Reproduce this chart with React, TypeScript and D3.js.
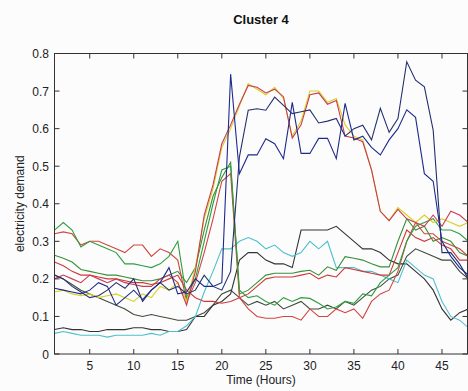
import React from "react";
import * as d3 from "d3";

const hours: number[] = d3.range(1, 49);
const xTicks = [5, 10, 15, 20, 25, 30, 35, 40, 45];
const yTicks = [0, 0.1, 0.2, 0.3, 0.4, 0.5, 0.6, 0.7, 0.8];

const yellowSeries = [
  0.165, 0.17, 0.16, 0.155, 0.16, 0.15, 0.155, 0.16, 0.15, 0.14, 0.16, 0.15, 0.18, 0.17, 0.19, 0.14,
  0.23, 0.36, 0.44, 0.55, 0.6, 0.66, 0.72, 0.705, 0.69, 0.71, 0.68, 0.58, 0.62, 0.7, 0.7, 0.67,
  0.68, 0.61, 0.58, 0.57, 0.49, 0.38, 0.355, 0.39, 0.37, 0.35, 0.37, 0.35, 0.36, 0.35, 0.34, 0.35,
];
const redHighSeries = [
  0.2, 0.21, 0.2, 0.19, 0.21, 0.2, 0.19, 0.2, 0.19, 0.185, 0.18, 0.18, 0.2, 0.21, 0.19, 0.13,
  0.22, 0.37, 0.45, 0.56, 0.61, 0.665, 0.715, 0.71, 0.695, 0.705, 0.685, 0.575, 0.61, 0.69, 0.695, 0.665,
  0.675, 0.58, 0.575, 0.565, 0.49, 0.38, 0.355, 0.385, 0.36, 0.35, 0.34, 0.37, 0.34, 0.38, 0.37, 0.35,
];
const navyLSeries = [
  0.175, 0.17, 0.165, 0.16, 0.17, 0.19, 0.18, 0.13, 0.15, 0.17, 0.145, 0.17, 0.19, 0.23, 0.16, 0.165,
  0.2, 0.18, 0.18, 0.19, 0.745, 0.48, 0.53, 0.53, 0.573, 0.56, 0.52, 0.67, 0.534, 0.534, 0.574, 0.574,
  0.52, 0.667, 0.57, 0.58, 0.55, 0.53, 0.57, 0.6, 0.65, 0.63, 0.48, 0.46, 0.3, 0.26, 0.23, 0.21,
];
const navyUSeries = [
  0.21, 0.2, 0.18, 0.165, 0.15, 0.155, 0.17, 0.19, 0.175, 0.2, 0.14, 0.17, 0.19, 0.17, 0.18, 0.16,
  0.17, 0.21, 0.18, 0.17, 0.22, 0.525, 0.649, 0.653, 0.649, 0.684, 0.662, 0.64, 0.645, 0.65, 0.615, 0.62,
  0.627, 0.58, 0.6, 0.609, 0.57, 0.654, 0.59, 0.627, 0.778, 0.729, 0.711, 0.596, 0.27, 0.27, 0.24, 0.2,
];
const cyanSeries = [
  0.055, 0.06, 0.055, 0.05, 0.05, 0.05, 0.045, 0.05, 0.05, 0.05, 0.05, 0.055, 0.05, 0.06, 0.06, 0.075,
  0.1, 0.165, 0.22, 0.28, 0.28, 0.3, 0.31, 0.3, 0.28, 0.29, 0.27, 0.26, 0.27, 0.3, 0.28, 0.3,
  0.23, 0.23, 0.23, 0.22, 0.22, 0.21, 0.2, 0.19, 0.25, 0.23, 0.21, 0.2, 0.14, 0.1, 0.09, 0.07,
];
const blackUpSeries = [
  0.065, 0.07, 0.065, 0.065, 0.06, 0.06, 0.065, 0.065, 0.065, 0.07, 0.07, 0.065, 0.065, 0.06, 0.06, 0.065,
  0.1, 0.1, 0.13, 0.14, 0.16, 0.25, 0.27, 0.27, 0.25, 0.24, 0.24, 0.23, 0.33, 0.33, 0.33, 0.33,
  0.34, 0.32, 0.3, 0.28, 0.28, 0.27, 0.25, 0.24, 0.24, 0.22, 0.2, 0.17, 0.12, 0.09, 0.11, 0.12,
];
const darkMidSeries = [
  0.21, 0.2, 0.185, 0.17, 0.16, 0.15, 0.14, 0.13, 0.12, 0.105, 0.1, 0.105, 0.1, 0.095, 0.09, 0.09,
  0.1, 0.11, 0.13, 0.16, 0.17, 0.15, 0.13, 0.14, 0.13, 0.14, 0.12, 0.13, 0.14, 0.12, 0.12, 0.13,
  0.12, 0.14, 0.13, 0.15, 0.17, 0.18, 0.2, 0.21, 0.26, 0.28, 0.27, 0.26, 0.25, 0.25, 0.22, 0.2,
];
const greenTopSeries = [
  0.33, 0.35, 0.33, 0.285, 0.3, 0.29, 0.28, 0.27, 0.24, 0.24, 0.235, 0.23, 0.24, 0.26, 0.3, 0.15,
  0.2, 0.3, 0.4, 0.49, 0.5, 0.17, 0.15, 0.155, 0.14, 0.13, 0.15, 0.14, 0.15, 0.148, 0.135, 0.12,
  0.125, 0.14, 0.135, 0.16, 0.155, 0.19, 0.21, 0.23, 0.3, 0.34, 0.35, 0.36, 0.33, 0.33, 0.32, 0.3,
];
const redTopSeries = [
  0.32, 0.325, 0.32, 0.29, 0.3, 0.3, 0.29, 0.28, 0.27, 0.29, 0.29, 0.26, 0.28, 0.27, 0.25, 0.14,
  0.19, 0.27, 0.36, 0.46, 0.48, 0.15, 0.12, 0.1, 0.095, 0.095, 0.1, 0.1, 0.09, 0.12, 0.1, 0.1,
  0.12, 0.11, 0.12, 0.095, 0.14, 0.16, 0.17, 0.22, 0.3, 0.35, 0.32, 0.32, 0.3, 0.29, 0.28, 0.26,
];
const green2Series = [
  0.263, 0.255, 0.245, 0.225, 0.22, 0.215, 0.21, 0.21, 0.205, 0.2, 0.195, 0.195, 0.2, 0.21, 0.22, 0.19,
  0.23, 0.33, 0.42, 0.47, 0.51, 0.16, 0.17, 0.19, 0.21, 0.215, 0.215, 0.215, 0.22, 0.223, 0.21, 0.232,
  0.223, 0.259, 0.255, 0.25, 0.24, 0.232, 0.232, 0.3, 0.36, 0.33, 0.34, 0.3, 0.31, 0.3, 0.27, 0.26,
];
const redMidSeries = [
  0.245, 0.235, 0.22, 0.21, 0.21, 0.205, 0.2, 0.2, 0.195, 0.19, 0.19, 0.185, 0.19, 0.2, 0.21, 0.17,
  0.15, 0.14, 0.14, 0.135, 0.14, 0.15, 0.16, 0.18, 0.2, 0.205, 0.205, 0.205, 0.21, 0.215, 0.2, 0.21,
  0.205, 0.23, 0.225, 0.22, 0.215, 0.21, 0.21, 0.27, 0.33, 0.31, 0.3, 0.31, 0.29, 0.28, 0.25, 0.25,
];

const seriesList = [
  { name: "darkMid", values: darkMidSeries, color: "#3f4a3a" },
  { name: "blackUp", values: blackUpSeries, color: "#333333" },
  { name: "cyan", values: cyanSeries, color: "#4cc0cc" },
  { name: "redMid", values: redMidSeries, color: "#cc3a3a" },
  { name: "green2", values: green2Series, color: "#3a8f3a" },
  { name: "redTop", values: redTopSeries, color: "#d0463c" },
  { name: "greenTop", values: greenTopSeries, color: "#2e9e3e" },
  { name: "yellow", values: yellowSeries, color: "#d8d020" },
  { name: "redHigh", values: redHighSeries, color: "#c83c50" },
  { name: "navyU", values: navyUSeries, color: "#23306e" },
  { name: "navyL", values: navyLSeries, color: "#1c2a8c" },
];

const W = 468;
const H = 391;
const left = 54.5;
const right = 467.5;
const top = 53.5;
const bottom = 354;

export default function App() {
  const x = d3.scaleLinear().domain([1, 48]).range([left, 468.4]);
  const y = d3.scaleLinear().domain([0, 0.8]).range([bottom, top]);
  const line = d3
    .line<number>()
    .x((_, i) => x(hours[i]))
    .y((d) => y(d));
  const font = "'Liberation Sans', Arial, sans-serif";
  const tl = 5;
  return (
    <div style={{ position: "fixed", left: 0, top: 0 }}>
      <svg width={W} height={H} style={{ display: "block", background: "#fcfcfd" }}>
        <defs>
          <clipPath id="plot">
            <rect x={left} y={top} width={right - left} height={bottom - top} />
          </clipPath>
        </defs>
        <text x={261} y={24} textAnchor="middle" fontFamily={font} fontWeight="bold" fontSize={13} fill="#111">
          Cluster 4
        </text>
        <g clipPath="url(#plot)">
          {seriesList.map((s) => (
            <path key={s.name} d={line(s.values) || ""} fill="none" stroke={s.color} strokeWidth={1.1} />
          ))}
        </g>
        <rect x={left} y={top} width={right - left} height={bottom - top} fill="none" stroke="#333" strokeWidth={1} />
        {xTicks.map((t) => (
          <g key={"x" + t}>
            <line x1={x(t)} x2={x(t)} y1={bottom} y2={bottom - tl} stroke="#333" />
            <line x1={x(t)} x2={x(t)} y1={top} y2={top + tl} stroke="#333" />
            <text x={x(t)} y={370} textAnchor="middle" fontFamily={font} fontSize={12} fill="#222">
              {t}
            </text>
          </g>
        ))}
        {yTicks.map((t) => (
          <g key={"y" + t}>
            <line x1={left} x2={left + tl} y1={y(t)} y2={y(t)} stroke="#333" />
            <line x1={right} x2={right - tl} y1={y(t)} y2={y(t)} stroke="#333" />
            <text x={49} y={y(t) + 4.5} textAnchor="end" fontFamily={font} fontSize={12} fill="#222">
              {t === 0 ? "0" : d3.format(".1f")(t)}
            </text>
          </g>
        ))}
        <text x={261} y={384} textAnchor="middle" fontFamily={font} fontSize={12} fill="#222">
          Time (Hours)
        </text>
        <text
          transform={`translate(24,${(top + bottom) / 2}) rotate(-90)`}
          textAnchor="middle"
          fontFamily={font}
          fontSize={12}
          fill="#222"
        >
          electricity demand
        </text>
      </svg>
    </div>
  );
}
